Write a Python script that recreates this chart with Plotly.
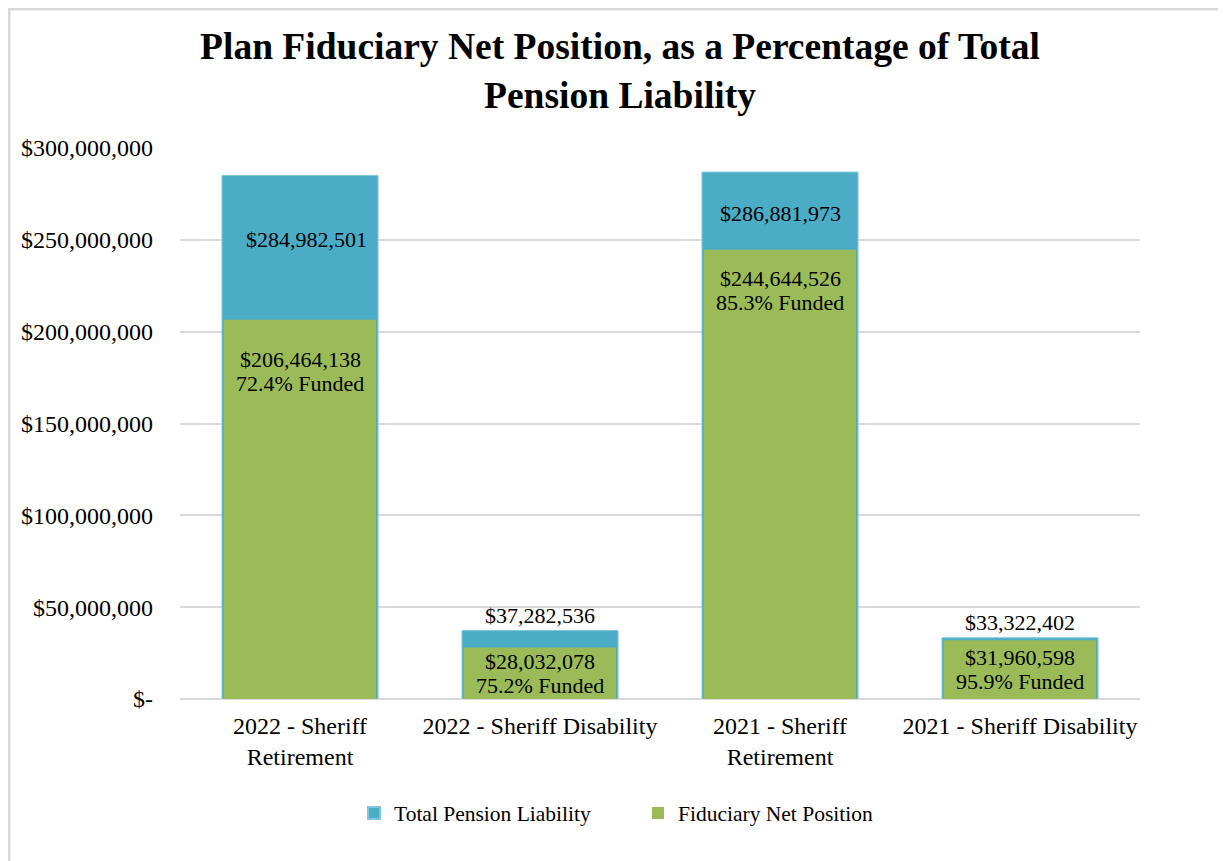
import plotly.graph_objects as go

categories = ["2022 - Sheriff<br>Retirement", "2022 - Sheriff Disability",
              "2021 - Sheriff<br>Retirement", "2021 - Sheriff Disability"]
total_liability = [284982501, 37282536, 286881973, 33322402]
net_position = [206464138, 28032078, 244644526, 31960598]
funded_pct = ["72.4%", "75.2%", "85.3%", "95.9%"]

tick_vals = [0, 50000000, 100000000, 150000000, 200000000, 250000000, 300000000]
tick_text = ["$-", "$50,000,000", "$100,000,000", "$150,000,000",
             "$200,000,000", "$250,000,000", "$300,000,000"]

# label placement (pixels relative to bar top)
blue_shift = [-64, 1, -41, 1]
blue_anchor = ["middle", "bottom", "middle", "bottom"]
blue_xshift = [6, 0, 0, 0]
green_shift = [-40, -14, -29, -17]   # centre of first line
LINE_GAP = 24

BLUE = "#4BACC6"
GREEN = "#9BBB59"
FONT = "Liberation Serif"

W, H = 1226, 861
ML, MR, MT, MB = 172, 94, 140, 170
PW, PH = W - ML - MR, H - MT - MB

fig = go.Figure()
fig.add_trace(go.Bar(x=categories, y=total_liability, name="Total Pension Liability",
                     marker=dict(color=BLUE, line=dict(color="#7FC6DA", width=1)),
                     width=0.65, hoverinfo="skip"))
fig.add_trace(go.Bar(x=categories, y=net_position, name="Fiduciary Net Position",
                     marker=dict(color=GREEN, line=dict(width=0)),
                     width=0.635, hoverinfo="skip"))

lab_font = dict(family=FONT, size=22, color="black")
annotations = []
for i, c in enumerate(categories):
    annotations.append(dict(x=c, y=total_liability[i], xref="x", yref="y",
                            text=f"${total_liability[i]:,}", showarrow=False,
                            yanchor=blue_anchor[i], yshift=blue_shift[i],
                            xshift=blue_xshift[i], font=lab_font))
    annotations.append(dict(x=c, y=net_position[i], xref="x", yref="y",
                            text=f"${net_position[i]:,}",
                            showarrow=False, yanchor="middle", yshift=green_shift[i],
                            font=lab_font))
    annotations.append(dict(x=c, y=net_position[i], xref="x", yref="y",
                            text=f"{funded_pct[i]} Funded",
                            showarrow=False, yanchor="middle",
                            yshift=green_shift[i] - LINE_GAP, font=lab_font))

fig.update_layout(
    barmode="overlay",
    width=W, height=H,
    margin=dict(l=ML, r=MR, t=MT, b=MB),
    paper_bgcolor="white", plot_bgcolor="white",
    title=dict(text="<b>Plan Fiduciary Net Position, as a Percentage of Total<br>Pension Liability</b>",
               x=(620 - 8) / W, xanchor="center", y=1 - 51 / H, yanchor="middle",
               font=dict(family=FONT, size=37.5, color="black")),
    font=dict(family=FONT, size=22, color="black"),
    legend=dict(orientation="h", x=(638 - 8 - ML) / PW, xanchor="center",
                y=-(805 - (H - MB)) / PH, yanchor="middle",
                font=dict(family=FONT, size=21.5, color="black"),
                traceorder="normal", itemsizing="constant", entrywidth=239),
    annotations=annotations,
    shapes=[dict(type="rect", xref="paper", yref="paper",
                 x0=-(ML - 1) / PW, x1=(W - ML + 20) / PW,
                 y0=-(MB + 20) / PH, y1=1 + (MT - 1) / PH,
                 line=dict(color="#D9D9D9", width=3), fillcolor="rgba(0,0,0,0)",
                 layer="below")],
)
fig.update_yaxes(range=[0, 300000000], tickvals=tick_vals, ticktext=tick_text,
                 showgrid=True, gridcolor="#D9D9D9", gridwidth=2,
                 zeroline=True, zerolinecolor="#D9D9D9", zerolinewidth=2,
                 showline=False, ticks="", ticklabelstandoff=26,
                 tickfont=dict(family=FONT, size=24, color="black"))
fig.update_xaxes(showgrid=False, showline=False, ticks="",
                 tickfont=dict(family=FONT, size=24, color="black"),
                 ticklabelstandoff=10)

fig.write_html("out.html")
